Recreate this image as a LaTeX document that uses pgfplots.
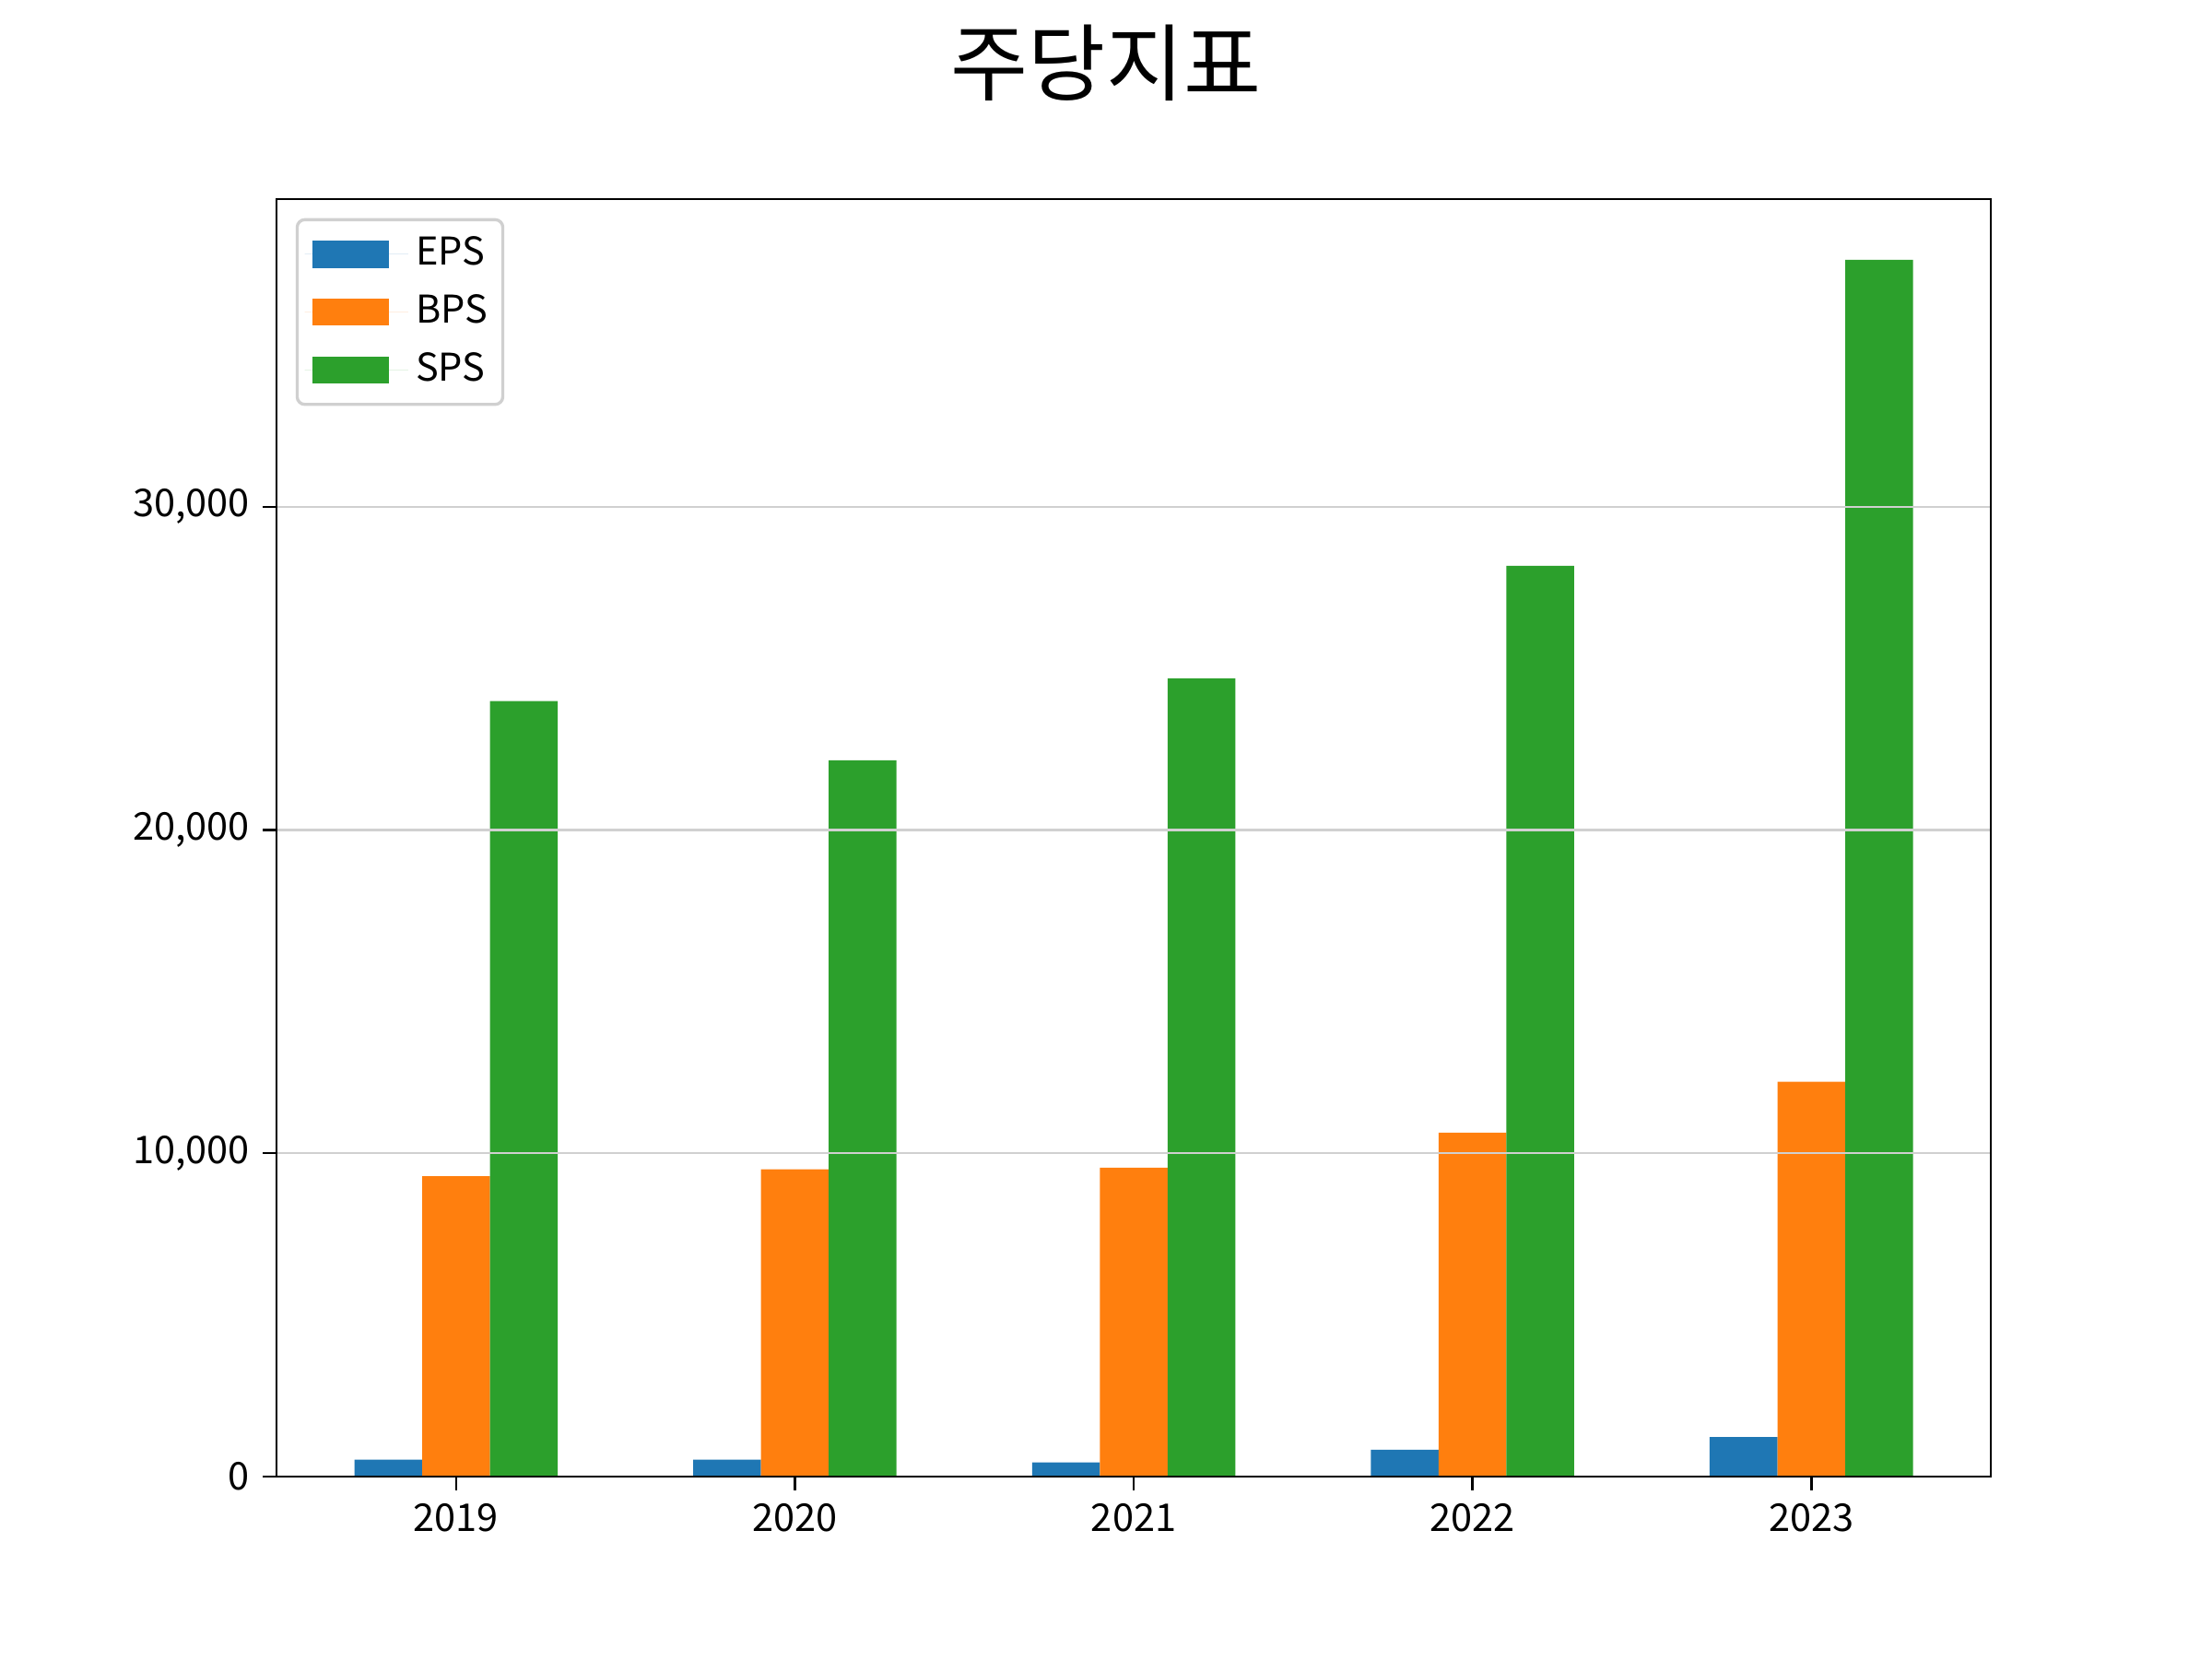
\documentclass[border=0pt]{standalone}
\usepackage{fontspec}
\setmainfont{Noto Sans CJK KR}
\usepackage{pgfplots}
\pgfplotsset{compat=1.18}
\definecolor{cEPS}{HTML}{1F77B4}
\definecolor{cBPS}{HTML}{FF7F0E}
\definecolor{cSPS}{HTML}{2CA02C}
\definecolor{gridc}{HTML}{D0D0D0}
\begin{document}
\begin{tikzpicture}
\useasboundingbox (0,0) rectangle (578.16pt,433.62pt);
\node[font=\fontsize{22}{26}\selectfont, anchor=center] at (289.08pt,417.24pt) {주당지표};
\begin{axis}[
  at={(72.27pt,47.70pt)}, anchor=south west,
  scale only axis, width=448.09pt, height=333.90pt,
  xmin=-0.53, xmax=4.53, ymin=0, ymax=39518,
  ybar, bar width=0.2,
  xtick={0,1,2,3,4}, xticklabels={2019,2020,2021,2022,2023},
  ytick={0,10000,20000,30000},
  scaled y ticks=false,
  yticklabel style={/pgf/number format/fixed, /pgf/number format/1000 sep={,}},
  /pgf/number format/assume math mode=true,
  tick label style={font=\fontsize{10}{12}\selectfont},
  xtick pos=bottom, ytick pos=left,
  tick align=outside, major tick length=3.5pt,
  tick style={black, line width=0.6pt},
  axis line style={line width=0.6pt},
  ymajorgrids, grid style={gridc, line width=0.5pt},
  axis on top,
  legend style={at={(0,1)}, anchor=north west, xshift=5pt, yshift=-5pt,
    draw=gridc, line width=0.8pt, rounded corners=2pt, fill=white,
    font=\fontsize{10}{12}\selectfont, row sep=2.2pt, inner xsep=2pt, inner ysep=2.5pt},
  legend cell align=left,
  legend image code/.code={\fill[#1, sharp corners] (0pt,-3.6pt) rectangle (20pt,3.6pt); \path (-2pt,0pt) -- (25pt,0pt);},
]
\addplot[fill=cEPS, draw=none, bar shift=-0.2] coordinates {(0,523) (1,523) (2,436) (3,829) (4,1221)};
\addplot[fill=cBPS, draw=none, bar shift=0] coordinates {(0,9289) (1,9507) (2,9551) (3,10641) (4,12211)};
\addplot[fill=cSPS, draw=none, bar shift=0.2] coordinates {(0,23986) (1,22155) (2,24684) (3,28173) (4,37636)};
\legend{EPS,BPS,SPS}
\end{axis}
\end{tikzpicture}
\end{document}
